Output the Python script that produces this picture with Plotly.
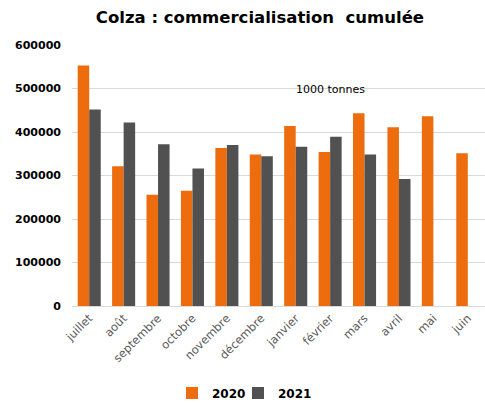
import plotly.graph_objects as go

months = ["juillet", "août", "septembre", "octobre", "novembre", "décembre",
          "janvier", "février", "mars", "avril", "mai", "juin"]
v2020 = [553000, 321000, 256000, 265000, 363000, 348000, 414000, 354000, 443000, 411000, 436000, 351000]
v2021 = [452000, 422000, 372000, 316000, 370000, 344000, 366000, 389000, 348000, 292000, None, None]
ytick_vals = [0, 100000, 200000, 300000, 400000, 500000, 600000]
ytick_text = ["<b>%d</b>" % v for v in ytick_vals]

fig = go.Figure()
fig.add_trace(go.Bar(name="<b>2020</b>", x=months, y=v2020, legend="legend",
                     marker=dict(color="#ED6C0E", line=dict(width=0))))
fig.add_trace(go.Bar(name="<b>2021</b>", x=months, y=v2021, legend="legend2",
                     marker=dict(color="#515151", line=dict(width=0))))

L, R, T, B = 72, 0, 45, 97
pw = 485 - L - R
ph = 403 - T - B
FONT = "DejaVu Sans, Liberation Sans, Arial, sans-serif"
leg_y = (306 - 393) / ph

legend_common = dict(orientation="h", xanchor="left", y=leg_y, yanchor="middle",
                     font=dict(size=12, color="#000000", family=FONT), itemwidth=30,
                     bgcolor="rgba(0,0,0,0)")

fig.update_layout(
    width=485, height=403,
    margin=dict(l=L, r=R, t=T, b=B, autoexpand=False),
    paper_bgcolor="white", plot_bgcolor="white",
    barmode="group", bargap=0.33, bargroupgap=0,
    font=dict(family=FONT, color="#000000"),
    title=dict(text="<b>Colza : commercialisation&nbsp; cumulée</b>", x=0.536, xanchor="center",
               y=1 - 17 / 403, yref="container", yanchor="middle", font=dict(size=16.5, color="#000000")),
    showlegend=True,
    legend=dict(x=(172 - L) / pw, **legend_common),
    legend2=dict(x=(238 - L) / pw, **legend_common),
    xaxis=dict(tickangle=-45, tickfont=dict(size=11.5, color="#595959"), showgrid=False,
               showline=True, linecolor="#d9d9d9", ticks="", automargin=False),
    yaxis=dict(range=[0, 600000], tickvals=ytick_vals, ticktext=ytick_text, showgrid=True, gridcolor="#d9d9d9",
               tickfont=dict(size=11, color="#000000"), ticks="", zeroline=False, showline=False,
               automargin=False, ticklabelstandoff=10),
    annotations=[dict(text="1000 tonnes", x=(367 - L) / pw, y=(306 - 80.5) / ph, xref="paper", yref="paper",
                      showarrow=False, font=dict(size=11, color="#000000"))],
)
fig.write_html("out.html", config={"displayModeBar": False},
               post_script="document.body.style.margin='0';document.body.style.overflow='hidden';")
